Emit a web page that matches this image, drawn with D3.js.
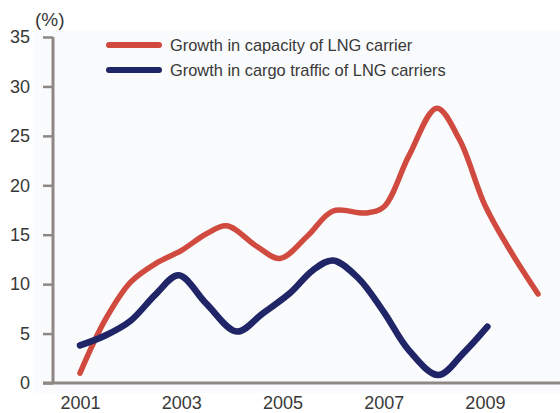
<!DOCTYPE html>
<html><head><meta charset="utf-8">
<script src="https://cdn.jsdelivr.net/npm/d3@7"></script>
<style>body{margin:0;background:#fff}svg{display:block}text{font-family:"Liberation Sans",Arial,sans-serif;fill:#383838}</style>
</head><body>
<svg id="c" width="560" height="413"></svg>
<script>
const yTicks = [0, 5, 10, 15, 20, 25, 30, 35];
const xTickLabels = ["2001", "2003", "2005", "2007", "2009"];
const capacityYears = [2001, 2001.5, 2002, 2002.5, 2003, 2003.5, 2003.9, 2004.5, 2004.95, 2005.5, 2006, 2006.65, 2007.0, 2007.5, 2008.05, 2008.5, 2009, 2009.5, 2010.05];
const capacityValues = [1.0, 6.4, 10.2, 12.1, 13.4, 15.1, 15.9, 13.8, 12.6, 14.9, 17.4, 17.2, 17.8, 23.0, 27.8, 24.6, 18.0, 13.4, 9.0];
const trafficYears = [2001, 2001.5, 2002, 2002.5, 2002.95, 2003.5, 2004.1, 2004.6, 2005.15, 2005.6, 2006, 2006.5, 2007, 2007.5, 2008.08, 2008.57, 2009.05];
const trafficValues = [3.8, 4.8, 6.3, 9.0, 10.9, 8.0, 5.2, 7.0, 9.1, 11.4, 12.4, 10.6, 7.2, 3.3, 0.8, 3.0, 5.7];
const seriesNames = ["Growth in capacity of LNG carrier", "Growth in cargo traffic of LNG carriers"];
const seriesColors = ["#d04a3f", "#1f2567"];

const svg = d3.select("#c");
const x = d3.scaleLinear().domain([2001, 2010]).range([80, 535.5]);
const y = d3.scaleLinear().domain([0, 35]).range([383, 37]);

svg.append("rect").attr("x", 34).attr("y", 31).attr("width", 526).attr("height", 362).attr("fill", "#fafbfc");

const line = d3.line().x(d => x(d[0])).y(d => y(d[1])).curve(d3.curveCatmullRom.alpha(0.5));
const cap = capacityYears.map((t, i) => [t, capacityValues[i]]);
const trf = trafficYears.map((t, i) => [t, trafficValues[i]]);

svg.append("path").datum(cap).attr("d", line).attr("fill", "none")
  .attr("stroke", seriesColors[0]).attr("stroke-width", 5.5).attr("stroke-linecap", "round").attr("stroke-linejoin", "round");
svg.append("path").datum(trf).attr("d", line).attr("fill", "none")
  .attr("stroke", seriesColors[1]).attr("stroke-width", 6.5).attr("stroke-linecap", "round").attr("stroke-linejoin", "round");

// y axis
const yAxis = svg.append("g").attr("transform", "translate(53,0)")
  .call(d3.axisLeft(y).tickValues(yTicks).tickSize(10).tickPadding(13));
yAxis.select(".domain").attr("stroke", "#8d8884").attr("stroke-width", 3).attr("d", "M0,37V383");
yAxis.selectAll(".tick line").attr("stroke", "#8d8884").attr("stroke-width", 2.5);
yAxis.selectAll(".tick text").attr("font-size", 18).attr("fill", "#383838").attr("font-family", "Liberation Sans, Arial, sans-serif");

// x axis
const xAxis = svg.append("g").attr("transform", "translate(0,383)")
  .call(d3.axisBottom(x).tickValues(xTickLabels.map(Number)).tickFormat(d3.format("d")).tickSize(0).tickPadding(13));
xAxis.select(".domain").attr("stroke", "#8d8884").attr("stroke-width", 3).attr("d", "M43,0H560");
xAxis.selectAll(".tick text").attr("font-size", 18).attr("fill", "#383838").attr("font-family", "Liberation Sans, Arial, sans-serif");

svg.append("text").attr("x", 35).attr("y", 26).attr("font-size", 19).text("(%)");

// legend
seriesNames.forEach((n, i) => {
  const ly = 45 + i * 25;
  svg.append("line").attr("x1", 109).attr("x2", 159).attr("y1", ly).attr("y2", ly)
    .attr("stroke", seriesColors[i]).attr("stroke-width", 6).attr("stroke-linecap", "round");
  svg.append("text").attr("x", 170).attr("y", ly + 6).attr("font-size", 16.4).text(n);
});
</script>
</body></html>
